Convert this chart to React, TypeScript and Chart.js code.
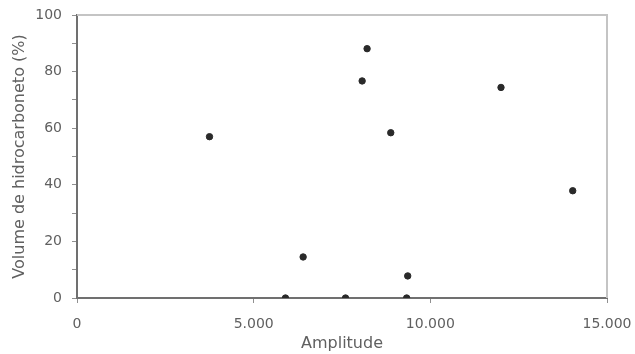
import React, { useEffect, useRef } from "react";
import { Chart, registerables } from "chart.js";

Chart.register(...registerables);

const amplitude = [3750, 5900, 6400, 7600, 8070, 8210, 8880, 9360, 9330, 12000, 14030];
const volume = [57, 0, 14.5, 0, 76.7, 88.1, 58.4, 7.8, 0, 74.4, 37.9];
const xTickValues = [0, 5000, 10000, 15000];
const yTickLabels = [0, 20, 40, 60, 80, 100];

const fmt = (v: number) => v.toLocaleString("de-DE");
const FONT = "DejaVu Sans";

const framePlugin = {
  id: "frame",
  afterDatasetsDraw(chart: any) {
    const { ctx, chartArea: a } = chart;
    ctx.save();
    ctx.strokeStyle = "#c4c4c4";
    ctx.lineWidth = 2;
    ctx.beginPath();
    ctx.moveTo(a.left, a.top);
    ctx.lineTo(a.right, a.top);
    ctx.lineTo(a.right, a.bottom);
    ctx.stroke();
    ctx.restore();
  },
};

export default function App() {
  const ref = useRef<HTMLCanvasElement>(null);
  useEffect(() => {
    const chart = new Chart(ref.current!, {
      type: "scatter",
      data: {
        datasets: [
          {
            data: amplitude.map((x, i) => ({ x, y: volume[i] })),
            backgroundColor: "#2a2a2a",
            borderColor: "#2a2a2a",
            pointRadius: 3.2,
            pointHoverRadius: 3.2,
          },
        ],
      },
      options: {
        responsive: false,
        animation: false,
        layout: { padding: { top: 15, right: 28, left: 0, bottom: 0 } },
        plugins: { legend: { display: false }, tooltip: { enabled: false } },
        scales: {
          x: {
            type: "linear",
            min: 0,
            max: 15000,
            afterBuildTicks: (s: any) => {
              s.ticks = xTickValues.map((v) => ({ value: v }));
            },
            afterFit: (s: any) => {
              s.height = 56;
              s.paddingLeft = 0;
              s.paddingRight = 0;
            },
            border: { color: "#707070", width: 2 },
            grid: { drawOnChartArea: false, color: "#909090", tickLength: 5 },
            ticks: {
              color: "#606060",
              font: { family: FONT, size: 14 },
              padding: 13,
              maxRotation: 0,
              callback: (v: any) => fmt(Number(v)),
            },
            title: {
              display: true,
              text: "Amplitude",
              color: "#606060",
              font: { family: FONT, size: 16 },
              padding: { top: 0, bottom: 1 },
            },
          },
          y: {
            type: "linear",
            min: 0,
            max: 100,
            afterBuildTicks: (s: any) => {
              const t: any[] = [];
              for (let v = 0; v <= 100; v += 10) t.push({ value: v });
              s.ticks = t;
            },
            afterFit: (s: any) => {
              s.width = 77;
              s.paddingTop = 0;
              s.paddingBottom = 0;
            },
            border: { color: "#707070", width: 2 },
            grid: { drawOnChartArea: false, color: "#909090", tickLength: 5 },
            ticks: {
              color: "#606060",
              font: { family: FONT, size: 14 },
              padding: 10,
              autoSkip: false,
              callback: (v: any) => (yTickLabels.includes(Number(v)) ? String(v) : ""),
            },
            title: {
              display: true,
              text: "Volume de hidrocarboneto (%)",
              color: "#606060",
              font: { family: FONT, size: 16 },
              padding: { top: 10, bottom: 0 },
            },
          },
        },
      },
      plugins: [framePlugin],
    } as any);
    return () => chart.destroy();
  }, []);
  return (
    <div style={{ position: "absolute", left: 0, top: 0, width: 635, height: 354, background: "#fff" }}>
      <canvas ref={ref} width={635} height={354} />
    </div>
  );
}
